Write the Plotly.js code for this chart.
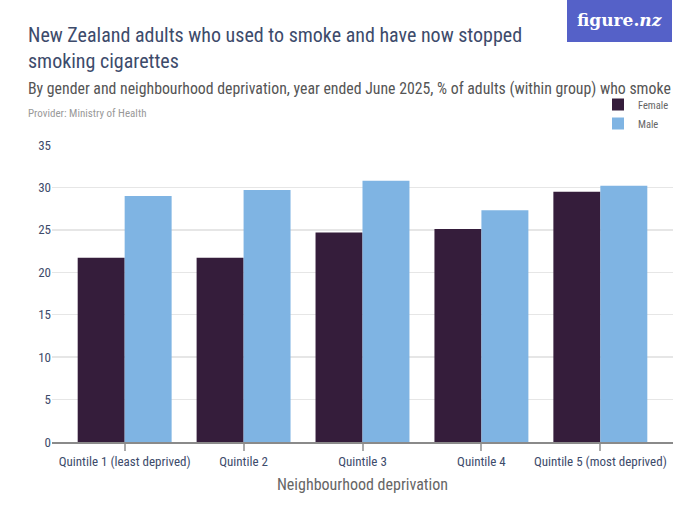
<!DOCTYPE html>
<html>
<head>
<meta charset="utf-8">
<script src="https://cdn.plot.ly/plotly-3.0.1.min.js"></script>
<style>html,body{margin:0;padding:0;background:#fff;}#chart{width:700px;height:525px;}</style>
</head>
<body>
<div id="chart"></div>
<script>
const categories = ["Quintile 1 (least deprived)", "Quintile 2", "Quintile 3", "Quintile 4", "Quintile 5 (most deprived)"];
const femaleValues = [21.7, 21.7, 24.7, 25.1, 29.5];
const maleValues = [29.0, 29.7, 30.8, 27.3, 30.2];
const yTicks = [0, 5, 10, 15, 20, 25, 30, 35];

const FONT = "'Liberation Sans Narrow', 'Roboto Condensed', 'Arial Narrow', Roboto, sans-serif";
const NAVY = "#3d4b6b";
const L = 52, T = 145, PW = 621, PH = 297;
const px = (x) => (x - L) / PW;
const py = (y) => (T + PH - y) / PH;

const traces = [
  {type: "bar", name: "Female", x: categories, y: femaleValues, marker: {color: "#351d3b"}, hoverinfo: "y"},
  {type: "bar", name: "Male", x: categories, y: maleValues, marker: {color: "#7fb4e3"}, hoverinfo: "y"}
];

const layout = {
  width: 700, height: 525,
  margin: {l: L, r: 700 - L - PW, t: T, b: 525 - T - PH},
  paper_bgcolor: "#fff", plot_bgcolor: "#fff",
  font: {family: FONT, color: NAVY},
  barmode: "group", bargap: 0.21, bargroupgap: 0,
  showlegend: true,
  legend: {x: px(598), xanchor: "left", y: py(90), yanchor: "top", font: {size: 10.5, color: "#666"},
           itemwidth: 30, tracegroupgap: 0, bgcolor: "rgba(0,0,0,0)"},
  xaxis: {
    type: "category", range: [-0.611, 4.611], showgrid: false,
    showline: true, linecolor: "#8a8a8a", linewidth: 1.5,
    ticks: "outside", ticklen: 7, tickcolor: "#aaa", tickwidth: 2,
    tickfont: {size: 13, color: NAVY},
    title: {text: "Neighbourhood deprivation", font: {size: 16, color: "#666"}, standoff: 10}
  },
  yaxis: {
    range: [0, 35], tickvals: yTicks, ticktext: yTicks.map(String),
    showgrid: true, gridcolor: "#e6e6e6", gridwidth: 1.5,
    zeroline: false, showline: false, ticks: "",
    tickfont: {size: 13, color: NAVY}
  },
  shapes: [
    {type: "rect", xref: "paper", yref: "paper", x0: px(567), x1: px(672),
     y0: py(42), y1: py(0), fillcolor: "#5561c8", line: {width: 0}}
  ],
  annotations: [
    {xref: "paper", yref: "paper", x: px(619.5), y: py(20), xanchor: "center", yanchor: "middle",
     text: "<b>figure.<i>nz</i></b>", showarrow: false, font: {family: "'DejaVu Serif', 'Liberation Serif', serif", size: 17, color: "#fff"}},
    {xref: "paper", yref: "paper", x: px(26), y: py(21), xanchor: "left", yanchor: "top",
     text: "New Zealand adults who used to smoke and have now stopped<br>smoking cigarettes", align: "left",
     showarrow: false, font: {size: 20, color: NAVY}},
    {xref: "paper", yref: "paper", x: px(26), y: py(88), xanchor: "left", yanchor: "middle",
     text: "By gender and neighbourhood deprivation, year ended June 2025, % of adults (within group) who smoke",
     showarrow: false, font: {size: 15.8, color: "#555"}},
    {xref: "paper", yref: "paper", x: px(26), y: py(113), xanchor: "left", yanchor: "middle",
     text: "Provider: Ministry of Health", showarrow: false, font: {size: 11, color: "#999"}}
  ]
};

Plotly.newPlot("chart", traces, layout, {displayModeBar: false, staticPlot: true});
</script>
</body>
</html>
